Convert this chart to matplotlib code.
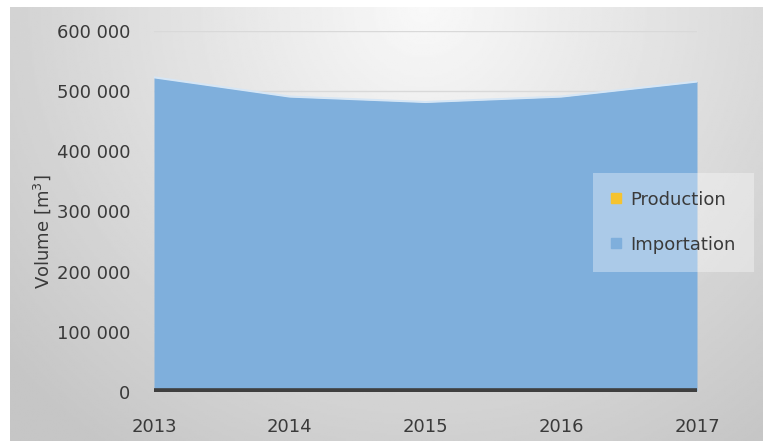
import numpy as np
import matplotlib.pyplot as plt
from matplotlib.patches import Patch

# data
years = [2013, 2014, 2015, 2016, 2017]
production = [2000, 2000, 2000, 2000, 2000]
importation = [521000, 489000, 480000, 489000, 514000]
yticks = [0, 100000, 200000, 300000, 400000, 500000, 600000]
ytick_labels = ["0", "100 000", "200 000", "300 000", "400 000", "500 000", "600 000"]

W, H = 763, 441
fig = plt.figure(figsize=(W / 100, H / 100), dpi=100)
fig.patch.set_facecolor("white")

# radial gray background (chart box starts at x=10, y=7)
bg = fig.add_axes([10 / W, 0, 1 - 10 / W, 1 - 7 / H], zorder=-10)
xx, yy = np.meshgrid(np.linspace(-1.1, 0.9, 400), np.linspace(0, 1, 240))
r = np.sqrt((xx * 0.85) ** 2 + (yy * 1.0) ** 2)
shade = 0.975 - 0.2 * np.clip(r, 0, 1.25) / 1.25
bg.imshow(shade, cmap="gray", vmin=0, vmax=1, aspect="auto", origin="upper",
          extent=[0, 1, 0, 1])
bg.axis("off")

ax = fig.add_axes([154 / W, 1 - 392 / H, (697 - 154) / W, (392 - 31) / H])
ax.patch.set_alpha(0)

base = np.array(production)
top = base + np.array(importation)
ax.fill_between(years, 0, base, color="#f5c330", lw=0, zorder=2)
ax.fill_between(years, base, top, color="#7fafdc", lw=0, zorder=2)
ax.plot(years, top, color="#d6e6f5", lw=1.5, zorder=3)

ax.set_xlim(2013, 2017)
ax.set_ylim(0, 600000)
ax.set_yticks(yticks)
ax.set_yticklabels(ytick_labels)
ax.set_xticks(years)
ax.tick_params(length=0, labelsize=13, colors="#3a3a3a")
ax.tick_params(axis="y", pad=17)
ax.tick_params(axis="x", pad=19)
ax.grid(axis="y", color="#d9d9d9", lw=1, zorder=0)
for s in ax.spines.values():
    s.set_visible(False)
ax.axhline(0, color="#3f3f3f", lw=5.5, zorder=4)

ax.set_ylabel("Volume [m$^3$]", fontsize=13, color="#3a3a3a")
ax.yaxis.set_label_coords(-(154 - 53) / (697 - 154), (392 - 232) / (392 - 31))

leg = ax.legend(handles=[Patch(color="#f5c330", label="Production"),
                         Patch(color="#7fafdc", label="Importation")],
                loc="upper left", bbox_to_anchor=((598 - 154) / 543, (392 - 178) / 361),
                frameon=True, fontsize=13, handlelength=0.6, handleheight=0.5,
                labelspacing=1.5, borderpad=0.7, handletextpad=0.5,
                borderaxespad=0)
leg.get_frame().set_facecolor("white")
leg.get_frame().set_alpha(0.35)
leg.get_frame().set_edgecolor("none")
leg.get_frame().set_boxstyle("square")
for t in leg.get_texts():
    t.set_color("#3a3a3a")

fig.savefig("out.png", dpi=100)
